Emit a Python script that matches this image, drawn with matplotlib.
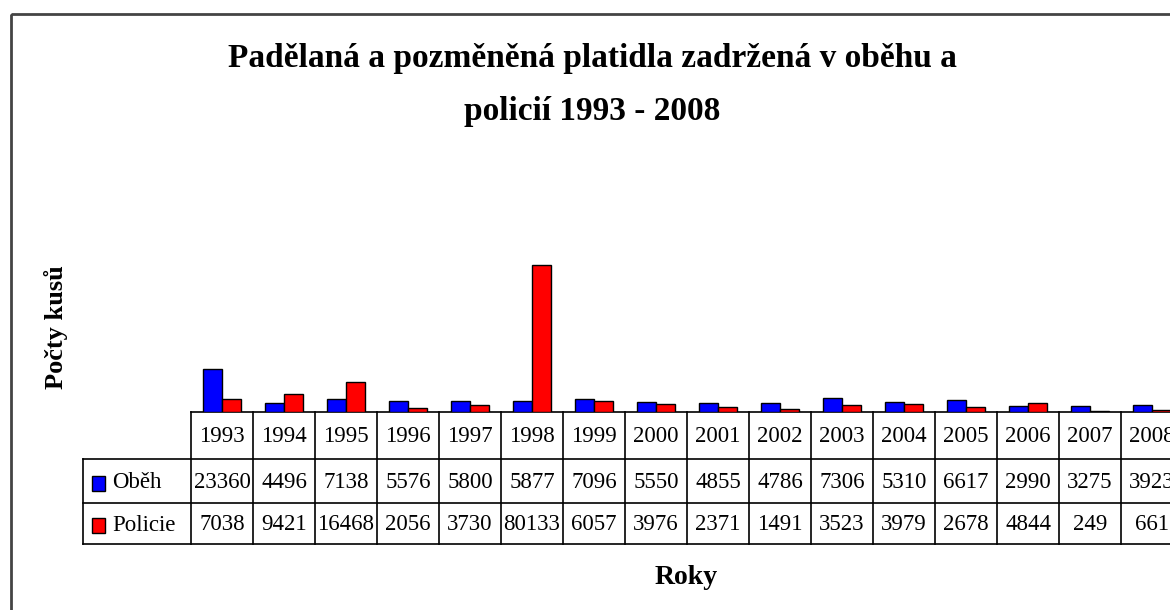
import numpy as np
import matplotlib.pyplot as plt
from matplotlib.patches import Rectangle

years = ["1993", "1994", "1995", "1996", "1997", "1998", "1999", "2000",
         "2001", "2002", "2003", "2004", "2005", "2006", "2007", "2008"]
obeh = [23360, 4496, 7138, 5576, 5800, 5877, 7096, 5550,
        4855, 4786, 7306, 5310, 6617, 2990, 3275, 3923]
policie = [7038, 9421, 16468, 2056, 3730, 80133, 6057, 3976,
           2371, 1491, 3523, 3979, 2678, 4844, 249, 661]
series = ["Oběh", "Policie"]
colors = ["#0000ff", "#ff0000"]

W, H = 1170, 610
serif = ["Liberation Serif", "DejaVu Serif"]

# layout in pixels (y from top)
col_left, col_w = 191, 62
base_y, top_y = 411.7, 192
row_edges = [412, 459, 503, 544]
leg_left = 83

fig = plt.figure(figsize=(W / 100, H / 100), dpi=100)

# overlay axes in pixel coordinates for frame, table and labels
ov = fig.add_axes([0, 0, 1, 1])
ov.set_xlim(0, W)
ov.set_ylim(H, 0)
ov.axis("off")

ov.add_patch(Rectangle((11, 14), W + 50, H + 50, fill=False,
                       edgecolor="#444444", linewidth=2))

# bar axes
n = len(years)
ax = fig.add_axes([col_left / W, (H - base_y) / H,
                   n * col_w / W, (base_y - top_y) / H])
ax.patch.set_alpha(0)
x = np.arange(n)
bw = 0.30
ax.bar(x - bw / 2, obeh, bw, color=colors[0], edgecolor="black", linewidth=1)
ax.bar(x + bw / 2, policie, bw, color=colors[1], edgecolor="black", linewidth=1)
ax.set_xlim(-0.5, n - 0.5)
ax.set_ylim(0, 80133 * (base_y - top_y) / 146.7)
ax.axis("off")

# data table
lw = 1.2
right = col_left + n * col_w
for i in range(n + 1):
    xx = col_left + i * col_w
    ov.plot([xx, xx], [row_edges[0], row_edges[3]], color="black", lw=lw)
ov.plot([col_left, right], [row_edges[0]] * 2, color="black", lw=lw)
for ry in row_edges[1:]:
    ov.plot([leg_left, right], [ry, ry], color="black", lw=lw)
ov.plot([leg_left, leg_left], [row_edges[1], row_edges[3]], color="black", lw=lw)

fs = 16.5
for i, yr in enumerate(years):
    cx = col_left + (i + 0.5) * col_w
    ov.text(cx, (row_edges[0] + row_edges[1]) / 2 + 1, yr, ha="center", va="center",
            fontsize=fs, family=serif)
    for r, vals in enumerate([obeh, policie]):
        cy = (row_edges[r + 1] + row_edges[r + 2]) / 2 + 1
        ov.text(cx, cy, str(vals[i]), ha="center", va="center",
                fontsize=fs, family=serif)

for r, (name, c) in enumerate(zip(series, colors)):
    cy = (row_edges[r + 1] + row_edges[r + 2]) / 2 + 2
    ov.add_patch(Rectangle((92, cy - 7.5), 13, 15, facecolor=c,
                           edgecolor="black", linewidth=1))
    ov.text(112, cy, name, ha="left", va="center", fontsize=fs, family=serif)

# titles
ov.text(592, 67, "Padělaná a pozměněná platidla zadržená v oběhu a",
        ha="center", va="baseline", fontsize=24, fontweight="bold", family=serif)
ov.text(592, 120, "policií 1993 - 2008",
        ha="center", va="baseline", fontsize=24, fontweight="bold", family=serif)
ov.text(56, 327, "Počty kusů", ha="center", va="center", rotation=90,
        fontsize=19, fontweight="bold", family=serif)
ov.text(686, 584, "Roky", ha="center", va="baseline",
        fontsize=20, fontweight="bold", family=serif)

fig.savefig("out.png", dpi=100)
